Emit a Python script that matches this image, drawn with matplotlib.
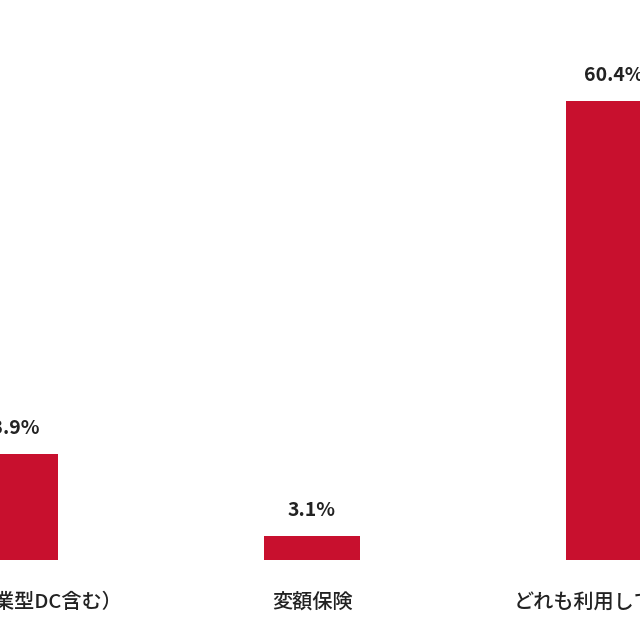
import matplotlib.pyplot as plt

plt.rcParams['font.family'] = ['Noto Sans CJK JP', 'DejaVu Sans']

categories = ['iDeCo（企業型DC含む）', '変額保険', 'どれも利用していない']
values = [13.9, 3.1, 60.4]
labels = ['13.9%', '3.1%', '60.4%']

fig = plt.figure(figsize=(6.4, 6.4), dpi=100)
ax = fig.add_axes([0, 0.125, 1, 0.875])
x = range(len(categories))
ax.bar(x, values, width=0.315, color='#C8102E')
for xi, v, lab in zip(x, values, labels):
    ax.text(xi, v + 2.1, lab, ha='center', va='bottom', fontsize=14,
            fontweight='bold', color='#222222')
    ax.text(xi, -5.6, categories[xi], ha='center', va='center', fontsize=14.5,
            fontweight='medium', color='#222222', clip_on=False)
ax.set_xlim(-0.033, 2.086)
ax.set_ylim(0, 73.7)
ax.axis('off')
fig.savefig('out.png', dpi=100)
